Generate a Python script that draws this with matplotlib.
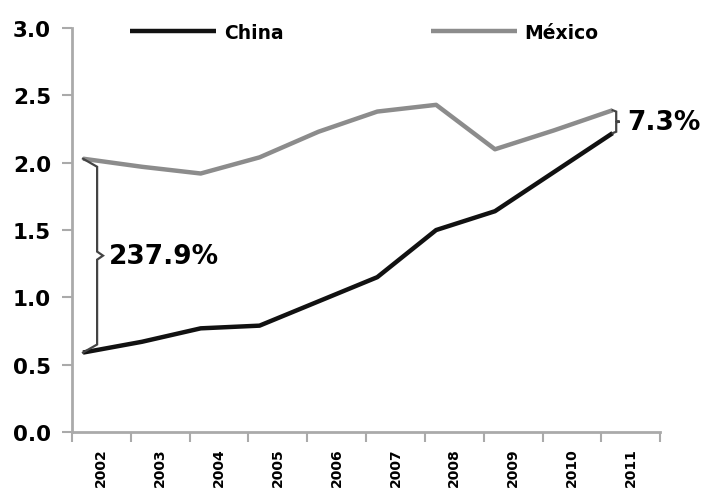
import matplotlib.pyplot as plt
import numpy as np

plt.rcParams['font.family'] = ['DejaVu Sans']
plt.rcParams['font.weight'] = 'bold'

years = ['2002', '2003', '2004', '2005', '2006', '2007', '2008', '2009', '2010', '2011']
china = [0.59, 0.67, 0.77, 0.79, 0.97, 1.15, 1.50, 1.64, 1.93, 2.22]
mexico = [2.03, 1.97, 1.92, 2.04, 2.23, 2.38, 2.43, 2.10, 2.24, 2.39]
yticks = [0.0, 0.5, 1.0, 1.5, 2.0, 2.5, 3.0]
gap_first = '237.9%'
gap_last = '7.3%'

x = np.arange(len(years))
grey_axis = '#aaaaaa'

fig = plt.figure(figsize=(7.04, 4.89), dpi=100)
ax = fig.add_axes([0.102, 0.1145, 0.836, 0.826])

l1, = ax.plot(x, china, color='#111111', lw=3.2, solid_capstyle='butt', label='China')
l2, = ax.plot(x, mexico, color='#8c8c8c', lw=3.2, solid_capstyle='butt', label='México')

ax.set_xlim(-0.19, 9.81)
ax.set_ylim(0, 3.0)

# category boundaries get the tick marks, labels sit in between
ax.set_xticks(np.arange(-0.19, 9.9, 1.0), minor=True)
ax.set_xticks(x + 0.31)
ax.set_xticklabels(years, rotation=90, fontsize=10, fontweight='bold')
ax.tick_params(axis='x', which='major', length=0, pad=11)
ax.tick_params(axis='x', which='minor', length=7, width=1.5, color=grey_axis, direction='out')

ax.set_yticks(yticks)
ax.set_yticklabels(['%.1f' % v for v in yticks], fontsize=15.5, fontweight='bold')
ax.tick_params(axis='y', length=7, width=1.5, color=grey_axis, pad=8)

for side in ['top', 'right']:
    ax.spines[side].set_visible(False)
for side in ['left', 'bottom']:
    ax.spines[side].set_color(grey_axis)
    ax.spines[side].set_linewidth(2)


def brace(x0, top, bottom, w=0.24, tip=0.1):
    mid = (top + bottom) / 2
    h = min((top - bottom) * 0.06, 0.06)
    xs = [x0, x0 + w, x0 + w, x0 + w + tip, x0 + w, x0 + w, x0]
    ys = [top, top - h, mid + h / 2, mid, mid - h / 2, bottom + h, bottom]
    ax.plot(xs, ys, color='#444444', lw=1.6, solid_joinstyle='miter')
    return x0 + w + tip, mid


bx, by = brace(x[0], mexico[0], china[0])
ax.text(bx + 0.1, by, gap_first, fontsize=19, fontweight='bold', va='center', ha='left')

bx, by = brace(x[-1], mexico[-1], china[-1], w=0.06, tip=0.06)
ax.text(bx + 0.12, by, gap_last, fontsize=19, fontweight='bold', va='center', ha='left')

ax.legend(handles=[l1, l2], loc='center', bbox_to_anchor=(0.497, 0.99), ncol=2,
          frameon=False, handlelength=4.6, columnspacing=7.85, handletextpad=0.4,
          prop={'weight': 'bold', 'size': 13.5})

fig.savefig('out.png', dpi=100)
